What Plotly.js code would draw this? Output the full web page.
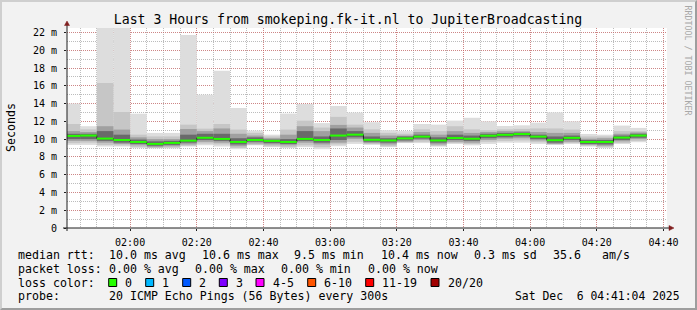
<!DOCTYPE html>
<html><head><meta charset="utf-8">
<script src="https://cdn.plot.ly/plotly-3.0.1.min.js"></script>
<style>
html,body{margin:0;padding:0;background:#f2f2f2;}
#wrap{position:relative;width:697px;height:310px;overflow:hidden;}
#chart{width:697px;height:310px;}
#frame{position:absolute;left:0;top:0;width:697px;height:310px;box-sizing:border-box;border-top:2px solid #cfcfcf;border-left:2px solid #cfcfcf;border-right:2px solid #9e9e9e;border-bottom:2px solid #9e9e9e;pointer-events:none;}
</style></head><body>
<div id="wrap"><div id="chart"></div><div id="frame"></div></div>
<script>
// ---- data ----
const day = "2025-12-06";
const binEnd = ["01:45","01:50","01:55","02:00","02:05","02:10","02:15","02:20","02:25","02:30",
  "02:35","02:40","02:45","02:50","02:55","03:00","03:05","03:10","03:15","03:20",
  "03:25","03:30","03:35","03:40","03:45","03:50","03:55","04:00","04:05","04:10",
  "04:15","04:20","04:25","04:30","04:35"];
const median = [10.36,10.40,10.06,9.90,9.68,9.46,9.57,9.83,10.15,10.02,9.68,9.90,9.80,9.68,10.02,9.90,10.40,10.50,9.92,9.85,
  10.08,10.28,9.85,10.12,10.04,10.38,10.48,10.57,10.28,9.88,10.14,9.68,9.68,10.17,10.40];
const maxRtt = [14.0,11.45,24.0,24.0,12.86,10.7,10.7,21.7,15.0,17.7,13.5,10.96,10.5,12.87,13.95,11.8,13.73,12.98,11.9,11.0,
  10.9,11.7,11.63,12.08,12.4,12.0,11.48,11.55,11.85,13.0,12.0,10.58,10.5,11.52,11.26];
const hi2 = [11.7,11.1,16.3,13.05,10.5,10.3,10.3,11.63,11.18,11.7,11.07,10.7,10.3,11.07,12.07,11.3,12.5,11.63,11.1,10.7,
  10.6,11.1,10.9,11.45,11.1,11.0,11.1,11.15,11.2,11.2,11.07,10.3,10.3,10.9,10.9];
const hi3 = [10.9,10.8,11.45,11.07,10.2,10.0,10.0,11.14,10.9,11.2,10.6,10.4,10.1,10.5,11.45,10.9,11.6,11.3,10.7,10.4,
  10.4,10.8,10.5,10.9,10.7,10.8,10.9,10.9,10.8,10.7,10.7,10.05,10.1,10.6,10.75];
const hi4 = [10.6,10.6,10.9,10.5,9.95,9.75,9.8,10.5,10.6,10.6,10.1,10.2,9.95,10.0,10.9,10.3,11.2,10.9,10.3,10.1,
  10.3,10.5,10.2,10.5,10.4,10.6,10.7,10.75,10.5,10.3,10.4,9.9,9.9,10.4,10.6];
const lo4 = [10.0,10.0,9.8,9.6,9.45,9.25,9.35,9.6,9.9,9.8,9.4,9.7,9.55,9.45,9.8,9.6,9.9,10.2,9.7,9.6,
  9.85,10.05,9.6,9.9,9.8,10.1,10.2,10.3,10.0,9.6,9.9,9.45,9.4,9.9,10.15];
const lo3 = [9.8,9.8,9.6,9.45,9.3,9.1,9.2,9.4,9.7,9.6,9.2,9.5,9.4,9.3,9.6,9.4,9.6,10.0,9.55,9.4,
  9.7,9.9,9.4,9.7,9.6,9.9,10.05,10.1,9.85,9.45,9.7,9.35,9.25,9.75,10.0];
const lo2 = [9.55,9.6,9.35,9.3,9.1,9.0,9.05,9.25,9.5,9.4,9.0,9.35,9.2,9.1,9.3,9.1,9.4,9.7,9.45,9.2,
  9.6,9.7,9.25,9.55,9.45,9.7,9.8,9.85,9.65,9.4,9.55,9.25,9.1,9.55,9.8];
const minRtt = [9.35,9.35,9.16,9.16,8.98,8.95,8.95,9.16,9.3,9.16,8.87,9.3,9.1,8.98,9.1,8.87,9.2,9.46,9.35,9.1,
  9.55,9.55,9.16,9.46,9.3,9.46,9.6,9.6,9.46,9.35,9.46,9.16,8.98,9.46,9.65];
const yTickVals = [0,2,4,6,8,10,12,14,16,18,20,22];
const yTickText = ["0","2 m","4 m","6 m","8 m","10 m","12 m","14 m","16 m","18 m","20 m","22 m"];
const xTickText = ["02:00","02:20","02:40","03:00","03:20","03:40","04:00","04:20","04:40"];
const rangeStart = "01:41:04", rangeEnd = "04:41:04";
const lossLabels = ["0","1","2","3","4-5","6-10","11-19","20/20"];
const lossColors = ["#26ff00","#00b8ff","#0059ff","#7e00ff","#ff00ff","#ff5500","#ff0000","#a00000"];

// ---- helpers ----
const T = s => Date.parse(day + "T" + (s.length === 5 ? s + ":00" : s) + "Z");
const STEP = 300000;
const xEnd = binEnd.map(T);
const xStart = xEnd.map(v => v - STEP);
const W = 697, H = 310, ML = 67, MR = 30, MT = 28, MB = 82;
const PW = W - ML - MR, PH = H - MT - MB;
const px = X => (X - ML) / PW;
const py = Y => (MT + PH - Y) / PH;
const FONT = "DejaVu Sans Mono";

function band(lo, hi, color) {
  return {type: "bar", x: xEnd, base: lo, y: hi.map((h, i) => h - lo[i]),
    width: STEP, offset: -STEP, marker: {color: color, line: {width: 0}},
    hoverinfo: "skip", showlegend: false};
}
const traces = [
  band(minRtt, maxRtt, "#dddddd"),
  band(lo2, hi2, "#c6c6c6"),
  band(lo3, hi3, "#a0a0a0"),
  band(lo4, hi4, "#6a6a6a")
];
// dark median step line
traces.push({type: "scatter", mode: "lines", x: xStart.concat([xEnd[xEnd.length-1]]),
  y: median.concat([median[median.length-1]]), line: {shape: "hv", color: "#202020", width: 1},
  hoverinfo: "skip", showlegend: false});
// green median segments (loss 0)
const gx = [], gy = [];
median.forEach((m, i) => { gx.push(xStart[i], xEnd[i], null); gy.push(m, m, null); });
traces.push({type: "scatter", mode: "lines", x: gx, y: gy, line: {color: lossColors[0], width: 2},
  hoverinfo: "skip", showlegend: false});

const gridC = "rgba(143,143,143,0.6)", mgridC = "rgba(222,79,79,0.5)";
const annotations = [];
const shapes = [];
function txt(X, Y, s, opts) {
  annotations.push(Object.assign({xref: "paper", yref: "paper", x: px(X), y: py(Y), text: s,
    showarrow: false, xanchor: "left", yanchor: "middle", font: {family: FONT, size: 11.6, color: "#000"}}, opts || {}));
}
// legend lines
const L1 = 254.5, L2 = 268.5, L3 = 282.5, L4 = 296.2;
txt(16, L1, "median rtt:"); txt(107.3, L1, "10.0 ms avg"); txt(200, L1, "10.6 ms max");
txt(292.3, L1, "9.5 ms min"); txt(379.3, L1, "10.4 ms now"); txt(472, L1, "0.3 ms sd");
txt(551, L1, "35.6"); txt(600, L1, "am/s");
txt(16, L2, "packet loss:"); txt(107.3, L2, "0.00 % avg"); txt(193.3, L2, "0.00 % max");
txt(279.3, L2, "0.00 % min"); txt(365.7, L2, "0.00 % now");
txt(16, L3, "loss color:");
const sqX = [108.7, 145.7, 182.7, 219.3, 256, 307.7, 365.7, 431];
lossLabels.forEach((l, i) => {
  shapes.push({type: "rect", xref: "paper", yref: "paper", x0: px(sqX[i]), x1: px(sqX[i] + 8),
    y0: py(L3 + 4), y1: py(L3 - 4), fillcolor: lossColors[i], line: {color: "#000", width: 1}, layer: "above"});
  txt(sqX[i] + 14.5, L3, l);
});
txt(16, L4, "probe:"); txt(107.3, L4, "20 ICMP Echo Pings (56 Bytes) every 300s");
txt(513.3, L4, "Sat Dec\u00a0\u00a06 04:41:04 2025", {font: {family: FONT, size: 11.4, color: "#000"}});
// y axis title
annotations.push({xref: "paper", yref: "paper", x: px(11), y: py(128), text: "Seconds", textangle: -90,
  showarrow: false, xanchor: "center", yanchor: "middle", font: {family: FONT, size: 11.6, color: "#000"}});
// watermark
annotations.push({xref: "paper", yref: "paper", x: px(687.5), y: py(60), text: "RRDTOOL / TOBI OETIKER", textangle: 90,
  showarrow: false, xanchor: "center", yanchor: "middle", font: {family: FONT, size: 8.3, color: "#a8a8a8"}});

// axis lines with arrows
shapes.push({type: "line", xref: "paper", yref: "paper", x0: 0, x1: 0, y0: py(231), y1: py(24), line: {color: "#1f1f1f", width: 1}, layer: "above"});
shapes.push({type: "line", xref: "paper", yref: "paper", x0: px(63), x1: px(671), y0: 0, y1: 0, line: {color: "#1f1f1f", width: 1}, layer: "above"});
shapes.push({type: "path", xref: "paper", yref: "paper", path:
  `M ${px(64.5)} ${py(25.5)} L ${px(69.5)} ${py(25.5)} L ${px(67)} ${py(21)} Z`,
  fillcolor: "#801f1f", line: {color: "#801f1f", width: 0.5}, layer: "above"});
shapes.push({type: "path", xref: "paper", yref: "paper", path:
  `M ${px(669)} ${py(225.5)} L ${px(669)} ${py(230.5)} L ${px(674)} ${py(228)} Z`,
  fillcolor: "#801f1f", line: {color: "#801f1f", width: 0.5}, layer: "above"});

const layout = {
  width: W, height: H, margin: {l: ML, r: MR, t: MT, b: MB, pad: 0},
  paper_bgcolor: "#f2f2f2", plot_bgcolor: "#ffffff",
  barmode: "overlay", showlegend: false,
  title: {text: "Last 3 Hours from smokeping.fk-it.nl to JupiterBroadcasting", xref: "container", yref: "container",
    x: 348 / W, y: 1 - 19 / H, xanchor: "center", yanchor: "middle", font: {family: FONT, size: 13.2, color: "#000"}},
  xaxis: {type: "date", range: [T(rangeStart), T(rangeEnd)], tickvals: xTickText.map(T), ticktext: xTickText,
    showgrid: true, gridcolor: mgridC, griddash: "1px,1px", gridwidth: 1,
    minor: {dtick: STEP, tick0: T("02:00"), showgrid: true, gridcolor: gridC, griddash: "1px,1px", gridwidth: 1},
    ticks: "outside", ticklen: 2, tickcolor: "#1f1f1f", ticklabelstandoff: 3,
    showline: false, zeroline: false, fixedrange: true,
    tickfont: {family: FONT, size: 10, color: "#000"}},
  yaxis: {range: [0, 22.5], tickvals: yTickVals, ticktext: yTickText,
    showgrid: true, gridcolor: mgridC, griddash: "1px,1px", gridwidth: 1,
    minor: {dtick: 1, tick0: 0, showgrid: true, gridcolor: gridC, griddash: "1px,1px", gridwidth: 1},
    ticks: "outside", ticklen: 2, tickcolor: "#1f1f1f", ticklabelstandoff: 5,
    showline: false, zeroline: false, fixedrange: true,
    tickfont: {family: FONT, size: 10, color: "#000"}},
  annotations: annotations, shapes: shapes
};
Plotly.newPlot("chart", traces, layout, {staticPlot: true, displayModeBar: false});
</script>
</body></html>
